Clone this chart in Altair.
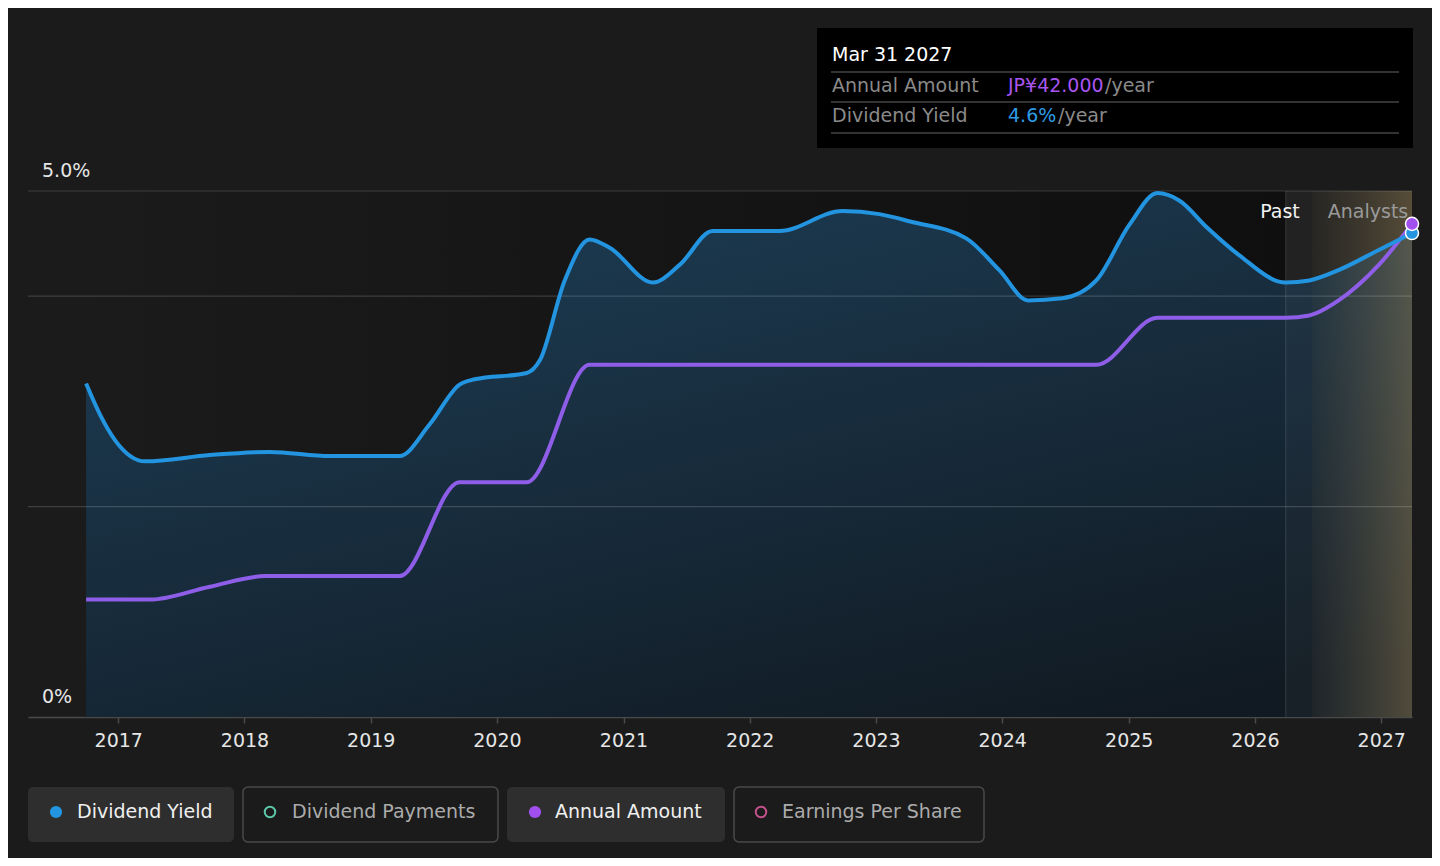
import altair as alt
import pandas as pd

# ---------------- data ----------------
YIELD_DATES = [
    "2016-09-30", "2016-11-10", "2016-12-23", "2017-03-20", "2017-09-23",
    "2018-03-15", "2018-09-05", "2019-03-25", "2019-06-20", "2019-09-15",
    "2019-10-28", "2020-03-27", "2020-05-04", "2020-07-15", "2020-09-25",
    "2020-11-22", "2021-03-27", "2021-06-13", "2021-09-16", "2022-03-28",
    "2022-09-26", "2023-01-11", "2023-04-10", "2023-09-19", "2023-12-23",
    "2024-03-16", "2024-06-23", "2024-09-29", "2025-01-03", "2025-03-25",
    "2025-05-27", "2025-08-16", "2025-11-16", "2026-03-31", "2026-06-07",
    "2026-09-01", "2026-12-25", "2027-03-31",
]
YIELD_VALUES = [
    3.17, 2.87, 2.63, 2.43, 2.49,
    2.52, 2.48, 2.48, 2.78, 3.16,
    3.21, 3.27, 3.39, 4.15, 4.54,
    4.46, 4.13, 4.30, 4.62, 4.62,
    4.81, 4.78, 4.71, 4.55, 4.25,
    3.96, 3.98, 4.15, 4.68, 4.98,
    4.91, 4.65, 4.39, 4.13, 4.15,
    4.25, 4.44, 4.60,
]
AMOUNT_DATES = [
    "2016-09-30", "2017-04-03", "2017-09-23", "2018-03-01", "2019-03-25",
    "2019-09-15", "2020-03-27", "2020-09-25", "2024-09-29", "2025-03-25",
    "2026-03-31", "2026-06-07", "2026-09-01", "2026-12-25", "2027-03-31",
]
AMOUNT_VALUES = [
    10.0, 10.0, 11.1, 12.0, 12.0,
    20.0, 20.0, 30.0, 30.0, 34.0,
    34.0, 34.2, 35.5, 38.5, 42.0,
]
YEAR_TICKS = list(range(2017, 2028))
GRID_VALUES = [2, 4, 5]
Y_LABEL_VALUES = [0, 5]
Y_LABEL_TEXT = ["0%", "5.0%"]
PAST_START = "2016-09-30"
PAST_END = "2026-03-31"
SHADE_START = "2026-06-15"
FORECAST_END = "2027-03-31"
LEGEND_ITEMS = ["Dividend Yield", "Dividend Payments", "Annual Amount", "Earnings Per Share"]
TOOLTIP_DATE = "Mar 31 2027"
TOOLTIP_ROWS = ["Annual Amount", "Dividend Yield"]
TOOLTIP_AMOUNT = "JP¥42.000"
TOOLTIP_YIELD = "4.6%"
TOOLTIP_UNIT = "/year"

# ---------------- styling ----------------
W, H = 1384, 526
BG = "#1b1b1b"
FONT = "DejaVu Sans"
FS = 19
BLUE = "#2394df"
PURPLE = "#8f5ee8"
PURPLE_DOT = "#a24ff0"
YIELD_DOMAIN = [0, 5]
AMOUNT_DOMAIN = [0, 44.8]
X_DOMAIN = [alt.DateTime(year=2016, month=4, date=15),
            alt.DateTime(year=2027, month=3, date=31)]

yield_df = pd.DataFrame({"date": YIELD_DATES, "yield": YIELD_VALUES})
amount_df = pd.DataFrame({"date": AMOUNT_DATES, "amount": AMOUNT_VALUES})
past_df = pd.DataFrame({"start": [PAST_START], "end": [PAST_END]})
gap_df = pd.DataFrame({"start": [PAST_END], "end": [SHADE_START]})
fc_df = pd.DataFrame({"start": [SHADE_START], "end": [FORECAST_END]})
grid_df = pd.DataFrame({"v": GRID_VALUES})
ylab_df = pd.DataFrame({"v": Y_LABEL_VALUES, "t": Y_LABEL_TEXT})
one = pd.DataFrame({"k": [0]})

xscale = alt.Scale(domain=X_DOMAIN)
yscale = alt.Scale(domain=YIELD_DOMAIN)
ascale = alt.Scale(domain=AMOUNT_DOMAIN)

x_axis = alt.Axis(
    format="%Y",
    values=[alt.DateTime(year=y, month=1, date=1) for y in YEAR_TICKS],
    title=None, grid=False,
    domainColor="#4a4a4a", domainWidth=1.5,
    tickColor="#4a4a4a", tickSize=6, tickWidth=1.5,
    labelColor="#e6e6e6", labelFontSize=FS, labelFont=FONT, labelPadding=8,
    labelFlush=False, labelOverlap=False,
)


def X(field):
    return alt.X(field, scale=xscale, axis=x_axis)


layers = []

# darker backdrop of the past region
layers.append(
    alt.Chart(past_df).mark_rect(
        fill=alt.LinearGradient(
            gradient="linear", x1=0, y1=0, x2=1, y2=0,
            stops=[alt.GradientStop(offset=0, color="#1b1b1b"),
                   alt.GradientStop(offset=1, color="#0f0f0f")],
        )
    ).encode(x=X("start:T"), x2="end:T", y=alt.value(0), y2=alt.value(H))
)

# area under the dividend yield
layers.append(
    alt.Chart(yield_df).mark_area(
        interpolate="monotone",
        fill=alt.LinearGradient(
            gradient="linear", x1=0.2, y1=0, x2=0.8, y2=1,
            stops=[alt.GradientStop(offset=0, color="#1d3d55"),
                   alt.GradientStop(offset=1, color="#111a22")],
        ),
    ).encode(x=X("date:T"), y=alt.Y("yield:Q", scale=yscale, axis=None))
)

# slight lightening just after the past boundary
layers.append(
    alt.Chart(gap_df).mark_rect(fill="#ffffff", opacity=0.03).encode(
        x=X("start:T"), x2="end:T", y=alt.value(0), y2=alt.value(H)
    )
)

# forecast shading
layers.append(
    alt.Chart(fc_df).mark_rect(
        fill=alt.LinearGradient(
            gradient="linear", x1=0, y1=0, x2=1, y2=0,
            stops=[alt.GradientStop(offset=0, color="rgba(130,120,95,0.12)"),
                   alt.GradientStop(offset=1, color="rgba(170,145,95,0.42)")],
        )
    ).encode(x=X("start:T"), x2="end:T", y=alt.value(0), y2=alt.value(H))
)

# gridlines
layers.append(
    alt.Chart(grid_df).mark_rule(color="#ffffff", opacity=0.16, strokeWidth=1.2).encode(
        y=alt.Y("v:Q", scale=yscale, axis=None),
        x=alt.value(0), x2=alt.value(W),
    )
)

# past boundary line
layers.append(
    alt.Chart(pd.DataFrame({"d": [PAST_END]})).mark_rule(color="#ffffff", opacity=0.14, strokeWidth=1).encode(
        x=X("d:T"), y=alt.value(0), y2=alt.value(H)
    )
)

# y labels
layers.append(
    alt.Chart(ylab_df).mark_text(
        align="left", baseline="middle", dy=-20, font=FONT, fontSize=FS, color="#e6e6e6"
    ).encode(
        y=alt.Y("v:Q", scale=yscale, axis=None),
        x=alt.value(14),
        text="t:N",
    )
)

# lines
layers.append(
    alt.Chart(amount_df).mark_line(interpolate="monotone", color=PURPLE, strokeWidth=4).encode(
        x=X("date:T"), y=alt.Y("amount:Q", scale=ascale, axis=None)
    )
)
layers.append(
    alt.Chart(yield_df).mark_line(interpolate="monotone", color=BLUE, strokeWidth=4).encode(
        x=X("date:T"), y=alt.Y("yield:Q", scale=yscale, axis=None)
    )
)

# end markers
layers.append(
    alt.Chart(yield_df.tail(1)).mark_point(
        filled=True, shape="circle", size=170, fill=BLUE, stroke="white", strokeWidth=1.5, opacity=1
    ).encode(x=X("date:T"), y=alt.Y("yield:Q", scale=yscale, axis=None))
)
layers.append(
    alt.Chart(amount_df.tail(1)).mark_point(
        filled=True, shape="circle", size=170, fill=PURPLE_DOT, stroke="white", strokeWidth=1.5, opacity=1
    ).encode(x=X("date:T"), y=alt.Y("amount:Q", scale=ascale, axis=None))
)

# Past / Analysts labels
layers.append(
    alt.Chart(pd.DataFrame({"d": [PAST_END]})).mark_text(
        text="Past", align="right", baseline="middle", dx=14, font=FONT, fontSize=FS, color="#f2f2f2"
    ).encode(x=X("d:T"), y=alt.value(21))
)
layers.append(
    alt.Chart(pd.DataFrame({"d": [PAST_END]})).mark_text(
        text="Analysts", align="left", baseline="middle", dx=42, font=FONT, fontSize=FS, color="#9a9a9a"
    ).encode(x=X("d:T"), y=alt.value(21))
)


def box(x0, x1, y0, y1, fill, stroke=None, radius=0):
    kw = dict(fill=fill, cornerRadius=radius)
    if stroke:
        kw.update(stroke=stroke, strokeWidth=1.5)
    return alt.Chart(one).mark_rect(**kw).encode(
        x=alt.value(x0), x2=alt.value(x1), y=alt.value(y0), y2=alt.value(y1)
    )


def txt(s, x, y, color, size=FS, align="left"):
    return alt.Chart(one).mark_text(
        text=s, align=align, baseline="middle", font=FONT, fontSize=size, color=color
    ).encode(x=alt.value(x), y=alt.value(y))


def hline(x0, x1, y, color="#444444"):
    return alt.Chart(one).mark_rule(color=color, strokeWidth=1.5).encode(
        x=alt.value(x0), x2=alt.value(x1), y=alt.value(y)
    )


def dot(x, y, color, filled=True):
    return alt.Chart(one).mark_point(
        shape="circle", filled=filled, size=150 if filled else 110,
        color=color, strokeWidth=2, opacity=1
    ).encode(x=alt.value(x), y=alt.value(y))


# tooltip box
layers += [
    box(789, 1385, -163, -43, "#000000"),
    txt(TOOLTIP_DATE, 804, -136, "#ffffff"),
    hline(803, 1371, -119),
    txt(TOOLTIP_ROWS[0], 804, -105, "#8a8a8a"),
    txt(TOOLTIP_AMOUNT, 980, -105, "#a855f0"),
    txt(TOOLTIP_UNIT, 1077, -105, "#8a8a8a"),
    hline(803, 1371, -89),
    txt(TOOLTIP_ROWS[1], 804, -75, "#8a8a8a"),
    txt(TOOLTIP_YIELD, 980, -75, "#2d9be6"),
    txt(TOOLTIP_UNIT, 1030, -75, "#8a8a8a"),
    hline(803, 1371, -58),
]

# legend
layers += [
    box(0, 206, 596, 651, "#2e2e2e", radius=5),
    dot(28, 621, BLUE),
    txt(LEGEND_ITEMS[0], 49, 621, "#f0f0f0"),
    box(215, 470, 596, 651, "#1b1b1b", stroke="#4a4a4a", radius=5),
    dot(242, 621, "#5cc8a8", filled=False),
    txt(LEGEND_ITEMS[1], 264, 621, "#ababab"),
    box(479, 697, 596, 651, "#2e2e2e", radius=5),
    dot(507, 621, PURPLE_DOT),
    txt(LEGEND_ITEMS[2], 527, 621, "#f0f0f0"),
    box(706, 956, 596, 651, "#1b1b1b", stroke="#4a4a4a", radius=5),
    dot(733, 621, "#c4508c", filled=False),
    txt(LEGEND_ITEMS[3], 754, 621, "#ababab"),
]

chart = alt.layer(*layers).resolve_scale(y="independent").properties(
    width=W, height=H, background=BG,
    padding={"left": 20, "top": 183, "right": 20, "bottom": 141},
    autosize=alt.AutoSizeParams(type="none"),
).configure_view(stroke=None)

chart.save("out.html", embed_options={"renderer": "svg", "actions": False})
